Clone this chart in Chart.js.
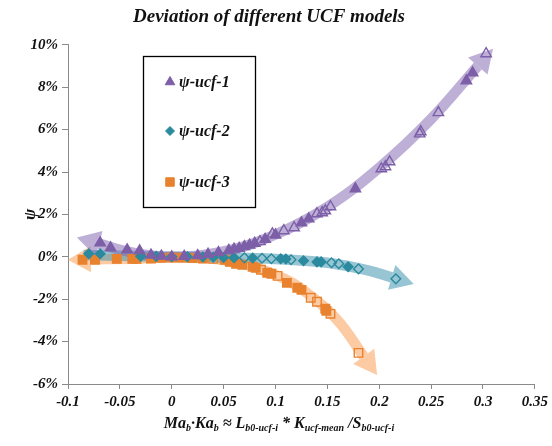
<!DOCTYPE html>
<html>
<head>
<meta charset="utf-8">
<script src="https://cdn.jsdelivr.net/npm/chart.js@4.4.1/dist/chart.umd.min.js"></script>
<style>
  html, body { margin: 0; padding: 0; background: #fff; }
  #wrap { width: 552px; height: 446px; }
</style>
</head>
<body>
<div id="wrap"><canvas id="myChart" width="552" height="446"></canvas></div>
<script>
// tick labels
const xTickLabels = ['-0.1', '-0.05', '0', '0.05', '0.1', '0.15', '0.2', '0.25', '0.3', '0.35'];
const yTickLabels = ['-6%', '-4%', '-2%', '0%', '2%', '4%', '6%', '8%', '10%'];
const seriesNames = ['ψ-ucf-1', 'ψ-ucf-2', 'ψ-ucf-3'];

// psi-ucf-1 (triangles), open = 1 -> hollow marker
const ucf1X = [-0.069, -0.059, -0.043, -0.031, -0.02, -0.01, 0.0, 0.012, 0.025, 0.035, 0.045, 0.055, 0.06, 0.065, 0.07, 0.075, 0.08, 0.085, 0.09, 0.097, 0.1, 0.108, 0.118, 0.125, 0.132, 0.14, 0.145, 0.148, 0.153, 0.177, 0.202, 0.206, 0.21, 0.239, 0.24, 0.257, 0.284, 0.29, 0.303];
const ucf1Y = [0.0066, 0.0042, 0.0033, 0.0028, 0.0008, 0.0003, 0.0, 0.0002, 0.0006, 0.0012, 0.002, 0.003, 0.0036, 0.004, 0.0048, 0.0055, 0.0064, 0.0072, 0.0082, 0.0108, 0.0103, 0.0123, 0.0137, 0.016, 0.0179, 0.0203, 0.0208, 0.0217, 0.0236, 0.0321, 0.0415, 0.0425, 0.0448, 0.058, 0.059, 0.068, 0.083, 0.0868, 0.0958];
const ucf1Open = [0, 0, 0, 0, 0, 0, 0, 0, 0, 0, 0, 0, 0, 0, 0, 0, 0, 1, 0, 1, 0, 1, 1, 0, 0, 1, 1, 1, 1, 0, 1, 1, 1, 1, 1, 1, 0, 0, 1];

// psi-ucf-2 (diamonds)
const ucf2X = [-0.08, -0.069, -0.03, -0.015, 0.0, 0.015, 0.03, 0.04, 0.05, 0.06, 0.07, 0.078, 0.087, 0.096, 0.105, 0.11, 0.115, 0.127, 0.14, 0.144, 0.154, 0.161, 0.17, 0.18, 0.216];
const ucf2Y = [0.0014, 0.0014, 0.0003, 0.0002, 0.0, 0.0, -0.0001, -0.0002, -0.0003, -0.0004, -0.0005, -0.0006, -0.0007, -0.0009, -0.0009, -0.001, -0.0014, -0.0019, -0.0024, -0.0024, -0.0028, -0.0033, -0.0047, -0.0057, -0.0104];
const ucf2Open = [0, 0, 0, 0, 0, 0, 0, 0, 0, 0, 1, 0, 1, 1, 0, 0, 1, 0, 0, 0, 1, 1, 0, 1, 1];

// psi-ucf-3 (squares)
const ucf3X = [-0.086, -0.074, -0.053, -0.038, -0.034, -0.02, -0.01, 0.0, 0.01, 0.02, 0.03, 0.04, 0.051, 0.056, 0.062, 0.068, 0.078, 0.081, 0.086, 0.092, 0.096, 0.102, 0.111, 0.121, 0.125, 0.134, 0.14, 0.148, 0.149, 0.153, 0.18];
const ucf3Y = [-0.0014, -0.0014, -0.001, -0.001, -0.001, -0.0008, -0.0005, -0.0003, -0.0004, -0.0006, -0.0008, -0.001, -0.0014, -0.0024, -0.0033, -0.0038, -0.0047, -0.0052, -0.0061, -0.0075, -0.008, -0.009, -0.0123, -0.0146, -0.0156, -0.0193, -0.0212, -0.0245, -0.0255, -0.0269, -0.0453];
const ucf3Open = [0, 0, 0, 0, 0, 0, 0, 0, 0, 0, 0, 1, 0, 0, 0, 0, 0, 0, 1, 0, 0, 1, 0, 0, 0, 1, 1, 0, 0, 1, 1];

// thick trend arrows drawn behind the markers
const band1X = [-0.07, -0.04, 0.0, 0.05, 0.1, 0.15, 0.2, 0.25, 0.295];
const band1Y = [0.0062, 0.0022, 0.0, 0.0025, 0.0105, 0.0235, 0.042, 0.065, 0.09];
const band2X = [-0.085, -0.04, 0.0, 0.05, 0.1, 0.15, 0.19, 0.212];
const band2Y = [0.0008, 0.0004, 0.0, -0.0003, -0.001, -0.0028, -0.0065, -0.0097];
const band3X = [-0.078, -0.04, 0.0, 0.05, 0.1, 0.13, 0.16, 0.185];
const band3Y = [-0.0012, -0.0009, -0.0004, -0.0015, -0.0085, -0.017, -0.03, -0.047];

const purple = '#7d5fa8';
const teal = '#2b8a9e';
const orange = '#e9822f';

const pts = (xs, ys) => xs.map((x, i) => ({ x: x, y: ys[i] }));
const fills = (open, c) => open.map(o => o ? 'rgba(255,255,255,0)' : c);

const serif = "'Liberation Serif', 'Times New Roman', serif";

// arrow heads at the ends of the bands
const arrowHeads = {
    id: 'arrowHeads',
    afterDatasetDraw(chart, args) {
        const ds = chart.data.datasets[args.index];
        if (!ds.heads) return;
        const p = args.meta.data;
        const ctx = chart.ctx;
        const head = (a, b) => {
            const dx = a.x - b.x, dy = a.y - b.y;
            const len = Math.hypot(dx, dy);
            const ux = dx / len, uy = dy / len;
            const L = 23, W = 13;
            ctx.beginPath();
            ctx.moveTo(a.x + ux * L, a.y + uy * L);
            ctx.lineTo(a.x - uy * W, a.y + ux * W);
            ctx.lineTo(a.x + uy * W, a.y - ux * W);
            ctx.closePath();
            ctx.fill();
        };
        ctx.save();
        ctx.fillStyle = ds.borderColor;
        if (ds.heads.includes('start')) head(p[0], p[1]);
        if (ds.heads.includes('end')) {
            const n = p.length;
            // follow the spline tangent at the end
            const last = p[n - 1];
            const prev = { x: last.cp1x !== undefined ? last.cp1x : p[n - 2].x, y: last.cp1y !== undefined ? last.cp1y : p[n - 2].y };
            head(last, prev);
        }
        ctx.restore();
    }
};

// legend box inside the plot and the x axis title with subscripts
const extras = {
    id: 'extras',
    afterDraw(chart) {
        const ctx = chart.ctx;
        ctx.save();
        // legend
        ctx.strokeStyle = '#000';
        ctx.lineWidth = 1.3;
        ctx.strokeRect(143.5, 56.5, 112, 151);
        const styles = [
            { pointStyle: 'triangle', radius: 5.5, c: purple },
            { pointStyle: 'rectRot', radius: 4.5, c: teal },
            { pointStyle: 'rect', radius: 6, c: orange }
        ];
        const rows = [82, 131, 182];
        ctx.font = 'italic bold 16px ' + serif;
        ctx.textBaseline = 'middle';
        ctx.textAlign = 'left';
        styles.forEach((s, i) => {
            ctx.fillStyle = s.c;
            ctx.strokeStyle = s.c;
            ctx.lineWidth = 1;
            Chart.helpers.drawPoint(ctx, { pointStyle: s.pointStyle, radius: s.radius, rotation: 0, borderWidth: 1 }, 170, rows[i]);
            ctx.fillStyle = '#111';
            ctx.fillText(seriesNames[i], 179, rows[i] + 1);
        });

        // x axis title: Ma_b·Ka_b ≈ L_b0-ucf-i * K_ucf-mean /S_b0-ucf-i
        const parts = [
            ['Ma', 0], ['b', 1], ['·Ka', 0], ['b', 1], [' ≈ L', 0], ['b0-ucf-i', 1],
            [' * K', 0], ['ucf-mean', 1], [' /S', 0], ['b0-ucf-i', 1]
        ];
        const big = 'italic bold 16px ' + serif;
        const small = 'italic bold 10px ' + serif;
        let total = 0;
        parts.forEach(p => { ctx.font = p[1] ? small : big; total += ctx.measureText(p[0]).width; });
        let x = 279 - total / 2;
        const base = 428;
        ctx.textBaseline = 'alphabetic';
        ctx.fillStyle = '#111';
        parts.forEach(p => {
            ctx.font = p[1] ? small : big;
            ctx.fillText(p[0], x, p[1] ? base + 3 : base);
            x += ctx.measureText(p[0]).width;
        });
        ctx.restore();
    }
};

const bandDs = (xs, ys, color, heads) => ({
    data: pts(xs, ys),
    showLine: true,
    borderColor: color,
    backgroundColor: color,
    borderWidth: 10.5,
    tension: 0.4,
    pointRadius: 0,
    fill: false,
    order: 10,
    heads: heads
});

const markerDs = (label, xs, ys, open, color, style, r) => ({
    label: label,
    data: pts(xs, ys),
    pointStyle: style,
    pointRadius: r,
    pointBorderWidth: 1.4,
    pointBorderColor: color,
    pointBackgroundColor: fills(open, color),
    showLine: false,
    order: 1
});

const ctx = document.getElementById('myChart').getContext('2d');
new Chart(ctx, {
    type: 'scatter',
    data: {
        datasets: [
            bandDs(band1X, band1Y, 'rgba(125, 95, 175, 0.5)', ['start', 'end']),
            bandDs(band2X, band2Y, 'rgba(65, 150, 175, 0.55)', ['end']),
            bandDs(band3X, band3Y, 'rgba(250, 160, 90, 0.55)', ['start', 'end']),
            markerDs(seriesNames[0], ucf1X, ucf1Y, ucf1Open, purple, 'triangle', 6),
            markerDs(seriesNames[1], ucf2X, ucf2Y, ucf2Open, teal, 'rectRot', 4.8),
            markerDs(seriesNames[2], ucf3X, ucf3Y, ucf3Open, orange, 'rect', 6)
        ]
    },
    options: {
        responsive: false,
        animation: false,
        layout: { padding: { left: 0, right: 14, top: 0, bottom: 0 } },
        plugins: {
            legend: { display: false },
            tooltip: { enabled: false },
            title: {
                display: true,
                text: 'Deviation of different UCF models',
                color: '#111',
                font: { family: serif, size: 19, weight: 'bold', style: 'italic' },
                padding: { top: 6, bottom: 16 }
            }
        },
        scales: {
            x: {
                type: 'linear',
                min: -0.1,
                max: 0.35,
                grid: { display: true, drawOnChartArea: false, color: '#8a8a8a', tickLength: 5 },
                border: { color: '#8a8a8a', width: 1 },
                ticks: {
                    stepSize: 0.05,
                    padding: 4,
                    color: '#111',
                    font: { family: serif, size: 15, weight: 'bold', style: 'italic' },
                    callback: (v, i) => xTickLabels[i]
                },
                afterFit: s => { s.height = 62; }
            },
            y: {
                type: 'linear',
                min: -0.06,
                max: 0.1,
                grid: { display: true, drawOnChartArea: false, color: '#8a8a8a', tickLength: 6 },
                border: { color: '#8a8a8a', width: 1 },
                ticks: {
                    stepSize: 0.02,
                    padding: 4,
                    color: '#111',
                    font: { family: serif, size: 15, weight: 'bold', style: 'italic' },
                    callback: (v, i) => yTickLabels[i]
                },
                title: {
                    display: true,
                    text: 'ψ',
                    color: '#111',
                    font: { family: serif, size: 17, weight: 'bold', style: 'italic' },
                    padding: { top: 20, bottom: 0 }
                },
                afterFit: s => { s.width = 68; }
            }
        }
    },
    plugins: [arrowHeads, extras]
});
</script>
</body>
</html>
